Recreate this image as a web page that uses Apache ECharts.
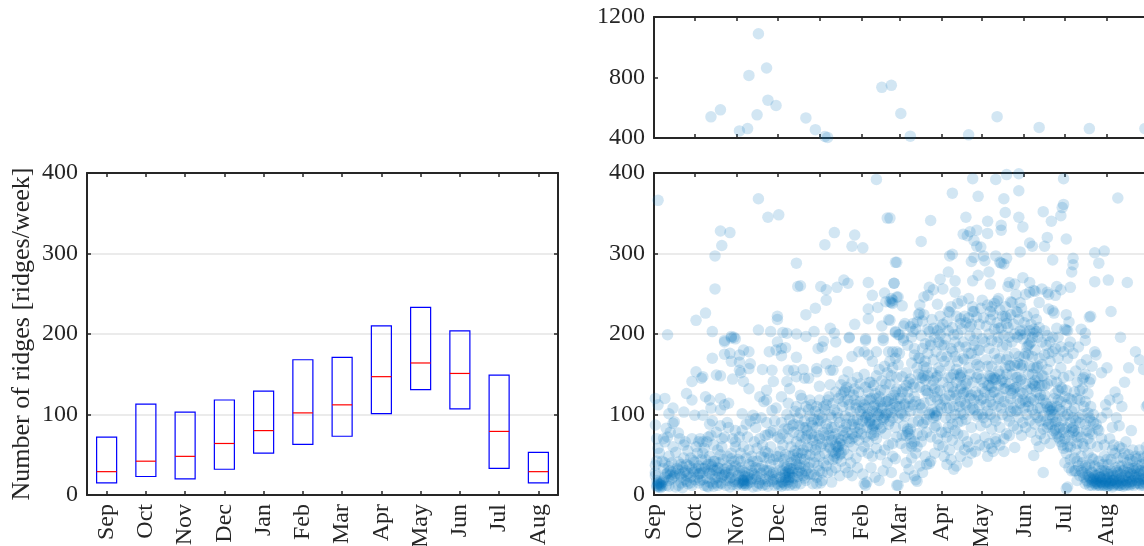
<!DOCTYPE html>
<html>
<head>
<meta charset="utf-8">
<style>html,body{margin:0;padding:0;background:#fff;overflow:hidden}#c{width:1144px;height:546px}</style>
<script src="https://cdn.jsdelivr.net/npm/echarts@6/dist/echarts.min.js"></script>
</head>
<body>
<div id="c"></div>
<script>
const months = ['Sep','Oct','Nov','Dec','Jan','Feb','Mar','Apr','May','Jun','Jul','Aug'];
const monthStartDays = [0,30,61,91,122,153,181,212,242,273,303,334];
const q1 = [15,23,20,32,52,63,73,101,131,107,33,15];
const medians = [29,42,48,64,80,102,112,147,164,151,79,29];
const q3 = [72,113,103,118,129,168,171,210,233,204,149,53];

const extremePoints = [[42,540],[49,586],[63,447],[69,462],[70,814],[77,1089],[76,553],[83,863],[84,650],[90,615],[112,533],[119,455],[126,410],[128,404],[168,735],[175,748],[182,562],[189,412],[232,421],[253,541],[284,470],[321,462],[362,462]];

const highLeft = [[3,366],[77,368],[84,345],[92,348],[49,328],[56,326],[50,310],[45,297],[45,256],[164,392],[172,344],[133,326],[148,323],[126,311],[146,309],[154,307],[105,288],[178,289],[106,259],[108,260],[140,267],[143,263],[123,259],[127,255],[135,258],[158,264],[177,263],[161,248],[170,251],[127,242],[119,232],[112,224],[91,222],[91,218],[38,226],[31,217],[43,203],[10,199],[57,197],[77,205],[86,203],[95,202],[98,201],[105,200],[112,197],[118,203],[130,207],[133,201],[144,196],[156,194],[148,212],[158,231],[158,219],[165,233],[173,218],[168,210],[171,240],[176,242],[179,246],[175,239],[178,202],[180,199],[169,195],[59,196],[52,192]];

const highRight = [[174,344],[204,341],[197,315],[220,375],[235,393],[252,392],[260,398],[269,399],[302,393],[239,371],[269,378],[258,368],[259,351],[230,345],[246,340],[269,345],[287,352],[302,361],[301,357],[300,347],[293,340],[342,369],[256,335],[256,329],[272,333],[238,329],[233,327],[228,324],[231,322],[246,325],[236,316],[238,309],[241,308],[290,320],[304,318],[277,313],[279,309],[288,309],[270,302],[325,301],[332,303],[309,294],[309,286],[308,277],[294,292],[328,288],[220,299],[218,297],[236,295],[234,290],[243,297],[244,291],[252,297],[260,294],[255,289],[256,288],[258,287],[179,289],[217,277],[247,277],[239,273],[235,266],[222,266],[211,268],[177,263],[203,258],[213,256],[206,255],[248,262],[262,264],[261,259],[266,262],[272,270],[277,264],[325,265],[335,267],[349,264],[307,258],[297,259],[300,255],[286,256],[280,254],[222,252],[202,248],[199,246],[175,244],[180,246],[176,238],[174,240],[183,235],[196,236],[209,237],[227,241],[242,242],[254,244],[253,241],[251,238],[249,234],[248,228],[235,234],[263,240],[264,239],[267,249],[270,239],[274,249],[277,252],[281,253],[290,252],[291,249],[296,248],[284,239],[268,227],[280,226],[291,231],[294,229],[295,226],[304,224],[322,222],[321,221],[337,228],[306,215],[315,206],[318,201],[344,196],[304,205],[305,204],[303,206],[297,207],[282,203],[280,201],[272,205],[270,199],[260,220],[259,222],[260,213],[254,207],[238,221],[235,228],[232,220],[229,222],[226,219],[223,222],[226,213],[233,209],[217,228],[218,227],[216,215],[211,208],[206,207],[203,203],[196,226],[195,224],[199,224],[194,215],[191,213],[189,209],[185,213],[174,217],[178,203],[181,199],[184,195],[191,203],[221,199],[211,199]];

const lowSep = [[1,120],[8,120],[3,112],[14,108],[11,101],[22,103],[28,118],[24,126],[28,141],[1,87],[9,83],[15,91],[14,89],[18,77],[2,70],[7,70],[8,66],[19,70],[23,66],[28,70],[14,60],[4,52],[11,48],[22,46],[30,41],[1,37],[11,35],[3,15],[4,13],[5,12],[3,11],[4,10],[5,14],[2,18],[6,16],[1,24],[8,22],[10,27],[12,25],[13,20],[11,18],[14,29],[15,24],[17,33],[18,12],[20,15],[19,26],[22,19],[23,30],[24,24],[25,14],[26,36],[27,22],[29,28],[30,19],[7,33],[9,12],[16,10],[21,9],[28,12],[13,40],[6,42],[3,58],[16,53],[25,55],[10,72],[12,78],[1,28],[2,42],[18,41],[24,38],[27,46]];

const lowOct = [[31,153],[36,147],[35,145],[46,149],[49,148],[38,122],[41,118],[49,120],[55,114],[52,112],[42,108],[49,106],[30,99],[36,99],[31,33],[33,26],[34,18],[36,28],[37,12],[38,35],[39,21],[40,30],[41,16],[42,38],[43,25],[44,11],[45,20],[45,42],[46,30],[47,34],[48,27],[49,15],[50,22],[51,44],[52,32],[53,12],[54,18],[55,26],[56,37],[57,22],[58,13],[59,30],[60,19],[32,52],[35,44],[37,58],[41,48],[44,62],[47,56],[50,60],[54,48],[57,52],[59,42],[36,52],[39,66],[42,74],[46,78],[52,72],[55,84],[58,70],[60,60],[34,70],[33,66],[36,66],[41,88],[43,92],[49,86],[54,90],[60,80],[33,15],[40,10],[47,12],[52,25],[56,10],[38,44],[44,31],[48,40],[43,35]];

const lowNov = [[52,190],[57,195],[60,194],[43,170],[52,175],[56,176],[57,166],[63,174],[66,180],[70,178],[71,163],[63,165],[63,155],[64,152],[58,144],[66,141],[70,157],[70,132],[80,156],[87,155],[85,178],[91,190],[90,180],[88,141],[83,130],[78,122],[81,116],[83,118],[90,108],[65,101],[73,99],[75,95],[61,12],[62,24],[63,16],[64,34],[65,14],[66,15],[67,18],[67,28],[68,12],[69,22],[70,38],[71,16],[72,30],[73,10],[74,25],[75,20],[76,42],[77,15],[78,33],[79,27],[80,12],[81,47],[82,20],[83,30],[84,11],[85,24],[86,38],[87,17],[88,28],[89,12],[90,20],[62,44],[64,52],[66,60],[68,46],[70,56],[72,48],[74,66],[76,58],[78,70],[80,62],[82,54],[84,75],[86,60],[88,80],[90,48],[63,72],[65,80],[68,88],[71,92],[75,84],[79,96],[83,90],[87,105],[89,92],[91,72],[65,30],[72,36],[80,36],[85,46],[66,19],[69,14],[76,11]];

const lowDec = [[94,182],[97,183],[94,173],[105,171],[99,155],[103,155],[105,147],[110,156],[111,145],[114,145],[120,157],[121,182],[98,141],[100,132],[108,124],[109,120],[94,122],[99,114],[115,118],[105,110],[120,153],[92,12],[93,22],[94,16],[95,30],[96,25],[97,18],[98,35],[99,27],[100,12],[101,40],[102,22],[103,33],[104,12],[105,46],[106,28],[107,38],[108,14],[109,52],[110,24],[111,44],[112,18],[113,60],[114,34],[115,50],[116,26],[117,68],[118,40],[119,56],[120,22],[121,74],[122,48],[93,54],[95,62],[97,50],[99,70],[101,60],[103,78],[105,66],[107,86],[109,72],[111,92],[113,80],[115,98],[117,86],[119,104],[121,92],[94,90],[96,82],[98,100],[100,94],[102,86],[104,104],[106,96],[108,102],[110,84],[112,110],[114,106],[116,112],[118,94],[120,110],[122,118],[92,40],[96,44],[100,48],[104,55],[108,62],[112,70],[116,76],[120,62],[103,50],[107,30],[111,36],[98,22],[99,30],[100,26],[101,33],[105,38],[106,52],[108,45],[110,56],[95,16],[97,12],[102,14]];

const lowJan = [[124,184],[125,191],[134,190],[144,195],[151,178],[146,172],[135,166],[127,163],[130,155],[132,155],[143,153],[140,143],[138,137],[141,130],[130,137],[122,135],[124,28],[125,40],[126,52],[127,36],[128,66],[129,44],[130,58],[131,30],[132,72],[133,48],[134,52],[135,46],[136,55],[137,50],[138,42],[139,62],[140,56],[141,34],[142,78],[143,50],[144,66],[145,40],[146,88],[147,60],[148,72],[149,46],[150,94],[151,68],[152,82],[153,54],[123,60],[125,78],[127,88],[129,74],[131,96],[133,84],[135,102],[137,90],[139,110],[141,98],[143,118],[145,104],[147,124],[149,108],[151,128],[153,100],[126,106],[128,118],[130,100],[132,114],[134,128],[136,120],[138,124],[140,116],[142,134],[144,128],[146,140],[148,132],[150,146],[152,138],[124,96],[127,112],[136,70],[139,80],[128,28],[134,34],[143,28],[137,24],[131,16],[124,18],[150,34],[146,24],[135,60],[137,64],[132,44],[138,52]];

const lowFeb = [[156,192],[155,178],[158,174],[164,178],[169,192],[173,178],[176,178],[179,178],[155,14],[156,12],[157,16],[154,26],[160,34],[163,22],[166,18],[169,30],[172,40],[175,28],[178,45],[180,12],[155,60],[156,72],[157,84],[158,66],[159,92],[160,76],[161,104],[162,86],[163,112],[164,70],[165,98],[166,122],[167,82],[168,108],[169,94],[170,130],[171,76],[172,116],[173,88],[174,138],[175,102],[176,64],[177,124],[178,84],[179,146],[180,96],[181,110],[154,108],[156,118],[158,128],[160,120],[162,136],[164,148],[166,156],[168,142],[170,160],[172,152],[174,166],[176,158],[178,170],[180,162],[158,52],[161,48],[164,58],[167,50],[170,56],[173,62],[176,48],[179,72],[160,96],[163,88],[159,90],[164,102],[165,108],[168,96],[171,100],[174,92],[177,108],[159,140],[155,150],[161,166],[157,98],[162,74]];

const lowMar = [[184,192],[183,147],[198,145],[200,143],[199,148],[182,64],[183,74],[184,86],[185,98],[186,58],[187,79],[188,110],[189,70],[190,64],[191,90],[192,122],[193,52],[194,76],[195,102],[196,134],[197,66],[198,88],[199,114],[200,48],[201,94],[202,126],[203,39],[204,72],[205,106],[206,142],[207,84],[208,99],[209,118],[210,62],[211,154],[212,78],[182,120],[184,132],[186,152],[188,140],[190,164],[192,174],[194,158],[196,170],[198,182],[200,166],[202,176],[204,186],[206,168],[208,178],[210,190],[212,172],[183,100],[185,112],[187,128],[189,104],[191,138],[193,116],[195,150],[197,108],[199,160],[201,130],[203,102],[205,136],[207,122],[209,148],[211,112],[186,40],[188,32],[190,46],[192,24],[193,19],[194,17],[196,36],[198,28],[201,38],[204,42],[207,52],[209,70],[208,98],[207,102],[209,104],[187,82],[188,76],[192,66],[190,60],[179,12],[185,22]];

const lowApr = [[221,32],[231,41],[214,186],[216,172],[218,160],[220,178],[222,190],[224,166],[226,148],[226,146],[225,150],[228,170],[230,184],[232,158],[234,176],[236,192],[238,162],[240,180],[213,60],[214,48],[216,72],[217,84],[218,56],[219,96],[220,68],[221,110],[222,80],[223,124],[224,90],[225,62],[226,102],[227,136],[228,74],[229,114],[230,94],[231,128],[232,60],[233,106],[234,84],[235,140],[236,118],[237,70],[238,98],[239,150],[240,112],[241,86],[242,132],[215,120],[217,134],[219,146],[221,128],[223,156],[226,116],[228,126],[230,138],[233,120],[236,106],[239,124],[241,144],[215,96],[218,108],[220,88],[222,100],[224,76],[227,92],[229,56],[231,66],[234,52],[237,54],[240,62],[216,38],[219,44],[223,36],[226,48]];

const lowMay = [[248,147],[249,145],[247,148],[250,143],[245,168],[247,182],[249,160],[251,176],[253,190],[255,170],[257,184],[259,158],[261,172],[262,161],[263,160],[266,161],[268,164],[270,162],[272,161],[271,158],[244,72],[245,90],[246,104],[247,64],[248,116],[249,82],[250,128],[251,96],[252,70],[253,110],[254,136],[255,84],[256,122],[257,100],[258,54],[259,140],[260,76],[261,112],[262,92],[263,130],[264,150],[265,86],[266,133],[267,134],[266,59],[267,104],[268,120],[269,96],[270,142],[271,74],[272,126],[273,108],[243,120],[246,136],[248,124],[251,146],[254,154],[256,142],[258,132],[260,150],[263,120],[265,108],[268,146],[270,114],[272,90],[246,48],[249,58],[252,66],[255,62],[258,70],[262,74],[268,82],[243,96],[244,60],[250,54]];

const lowJun = [[276,186],[277,188],[275,184],[278,190],[274,176],[279,172],[281,180],[284,170],[286,162],[288,174],[290,156],[292,166],[294,178],[296,150],[298,170],[300,158],[302,146],[274,138],[276,150],[278,132],[280,137],[281,135],[279,139],[282,128],[283,146],[284,120],[285,108],[286,136],[287,98],[288,124],[289,114],[290,138],[291,88],[292,108],[293,110],[294,106],[295,100],[296,126],[297,92],[298,118],[299,84],[300,134],[301,104],[302,78],[303,122],[274,84],[275,100],[276,116],[277,92],[278,78],[279,106],[280,49],[281,88],[282,68],[283,96],[284,60],[285,76],[287,28],[288,70],[290,84],[292,64],[294,76],[296,82],[298,72],[300,66],[302,58],[280,158],[283,160],[287,148],[293,142],[297,140],[301,132]];

const lowJul = [[304,8],[305,10],[303,40],[304,52],[305,60],[306,34],[307,44],[308,68],[309,84],[310,30],[311,56],[312,72],[313,96],[314,24],[315,48],[316,64],[317,110],[318,36],[319,18],[320,52],[321,78],[322,92],[323,28],[324,44],[325,14],[326,17],[327,60],[328,34],[329,22],[330,70],[331,12],[332,48],[333,16],[334,26],[304,112],[306,120],[308,104],[310,128],[312,140],[314,118],[316,132],[318,150],[320,126],[322,144],[324,100],[326,88],[328,80],[330,96],[332,62],[327,82],[308,82],[309,78],[306,148],[311,154],[315,162],[319,168],[323,160],[326,174],[330,152],[334,158],[305,170],[309,176],[313,184],[307,190],[318,192],[325,178],[321,140],[317,146],[316,144],[326,12],[327,20],[324,22],[328,12],[325,25],[329,16],[323,16],[322,20],[321,12],[320,24],[318,14],[316,28],[312,42],[311,30]];

const lowAug = [[335,12],[334,11],[336,15],[337,18],[338,10],[339,24],[340,14],[341,30],[342,12],[343,20],[344,16],[345,36],[346,11],[347,24],[348,18],[349,40],[350,13],[351,28],[352,17],[353,33],[354,12],[355,22],[356,45],[357,15],[358,26],[359,12],[360,38],[361,20],[362,30],[363,14],[364,50],[332,30],[335,38],[337,44],[340,52],[342,46],[345,58],[348,66],[350,50],[353,56],[356,32],[359,48],[363,60],[336,70],[338,84],[341,96],[343,86],[339,62],[345,110],[352,80],[334,102],[333,112],[336,118],[340,128],[342,120],[347,140],[350,158],[358,168],[355,178],[364,112],[363,110],[361,156],[346,46],[349,28],[339,18],[344,26],[351,16],[354,30],[358,18],[361,12],[343,12],[347,13]];

const moreAutumnLow = [[2,12],[3,14],[4,16],[2,10],[5,9],[6,11],[7,19],[9,26],[11,11],[12,30],[14,22],[16,27],[18,31],[20,22],[21,35],[22,28],[24,17],[25,27],[27,15],[28,33],[30,29],[32,22],[33,36],[34,27],[36,19],[37,33],[39,11],[40,38],[41,27],[43,14],[44,42],[46,15],[47,22],[48,33],[50,14],[51,25],[53,28],[54,34],[56,21],[57,31],[59,17],[60,36],[62,14],[63,30],[65,25],[66,12],[67,23],[69,18],[70,25],[72,20],[73,27],[75,34],[76,23],[78,14],[79,19],[81,31],[82,13],[84,17],[85,30],[87,25],[88,19],[90,27],[91,14],[93,31],[94,11],[96,37],[97,28],[99,19],[100,33],[102,28],[103,21],[105,15],[106,23],[108,34],[109,27],[111,21],[112,30],[114,26],[115,40],[117,14],[118,25],[120,14],[66,17],[67,14],[65,18],[96,14],[97,22],[99,16],[100,22],[8,40],[20,38],[29,43],[35,33],[49,50],[57,45],[64,42],[73,42],[79,48],[84,52],[88,44],[92,48],[104,43],[112,50],[116,60],[119,48],[121,36],[122,30],[123,15],[22,62],[31,60],[40,72],[50,70],[60,66],[69,72],[82,74],[86,78],[93,70],[99,82],[103,88],[107,74],[112,84],[95,76]];

const moreWinterMid = [[113,74],[116,90],[118,72],[120,84],[122,70],[123,92],[124,64],[126,74],[128,82],[129,60],[131,68],[132,54],[134,62],[136,60],[138,68],[140,74],[142,88],[143,70],[144,96],[146,76],[147,92],[148,84],[149,112],[150,78],[151,88],[152,104],[153,76],[154,92],[155,112],[156,96],[157,108],[158,100],[159,118],[160,88],[161,82],[162,110],[163,78],[164,120],[165,88],[166,100],[167,116],[168,84],[169,110],[170,96],[171,116],[172,102],[173,118],[174,106],[175,120],[176,96],[177,114],[178,128],[179,110],[180,120],[125,110],[129,122],[133,106],[136,96],[140,128],[144,112],[148,118],[152,116],[156,134],[160,140],[163,126],[167,130],[171,138],[175,148],[179,132],[122,100],[131,84],[134,76],[141,84],[146,70]];

const moreSpringHigh = [[181,176],[182,102],[183,128],[184,210],[185,114],[186,74],[186,136],[187,186],[188,120],[189,82],[189,144],[190,196],[191,112],[192,134],[192,182],[193,206],[194,60],[195,92],[195,170],[196,112],[197,146],[197,198],[198,74],[198,216],[199,90],[200,130],[200,188],[201,78],[201,158],[202,148],[202,206],[203,100],[204,118],[204,190],[205,152],[205,218],[206,96],[207,132],[207,196],[208,86],[208,146],[209,204],[209,128],[210,158],[211,130],[211,222],[212,108],[212,186],[213,140],[213,212],[214,118],[214,166],[215,194],[215,78],[216,108],[217,146],[217,204],[218,124],[219,182],[219,234],[220,134],[220,208],[221,150],[222,120],[222,172],[223,140],[224,200],[224,238],[225,110],[225,184],[226,132],[227,152],[227,206],[228,100],[228,190],[229,128],[229,168],[230,112],[230,214],[231,142],[232,176],[232,244],[233,150],[233,198],[234,124],[234,212],[235,108],[236,186],[236,228],[237,128],[237,168],[238,200],[238,146],[239,100],[239,180],[240,212],[240,160],[241,118],[241,232],[242,100],[242,194],[243,140],[243,220],[244,128],[244,190],[245,210],[245,112],[246,160],[246,236],[247,136],[247,200],[248,218],[248,100],[249,134],[249,192],[250,112],[250,224],[251,128],[251,206],[252,144],[252,92],[253,214],[253,168],[254,120],[254,196],[255,150],[255,230],[256,108],[256,208],[257,144],[257,222],[258,116],[258,198],[259,132],[259,234],[260,186],[260,168],[261,208],[261,98],[262,138],[262,196],[263,104],[263,224],[264,126],[264,190],[265,212],[265,132],[266,200],[266,176],[267,146],[267,228],[268,196],[268,106],[269,218],[269,172],[270,128],[270,204],[271,144],[271,232],[272,118],[272,194],[273,214],[273,172],[274,116],[274,200],[275,130],[275,222],[276,110],[276,174],[277,204],[277,160],[278,120],[278,212],[279,196],[279,150],[280,118],[280,206],[281,142],[281,100],[282,218],[282,158],[283,196],[283,108],[284,136],[284,208],[285,124],[285,92],[286,190],[286,148],[287,118],[287,82],[288,204],[288,136],[289,92],[289,186],[290,110],[290,198],[291,106],[291,176],[292,100],[292,190],[293,104],[293,88],[294,196],[294,96],[295,120],[295,80],[296,182],[296,90],[297,110],[297,76],[298,196],[298,130],[299,106],[299,70],[300,184],[300,116],[301,92],[301,62],[302,178],[302,82],[303,98],[303,70],[304,84],[304,130],[305,100],[306,74],[306,184],[307,90],[307,60],[308,118],[309,96],[310,108],[310,80],[311,92],[312,64],[312,120],[313,78],[314,90],[314,130],[315,72],[316,100],[317,60],[318,88],[318,116],[319,80],[320,102],[320,70],[321,96],[322,64],[322,110],[323,76],[324,90]];

const moreSummerLow = [[318,26],[320,16],[321,22],[322,30],[323,12],[324,18],[325,20],[326,15],[326,24],[327,14],[328,18],[328,26],[329,12],[329,22],[330,16],[330,30],[331,20],[331,14],[332,24],[332,12],[333,18],[333,30],[334,14],[334,20],[335,17],[335,26],[336,12],[336,22],[337,14],[337,30],[338,18],[338,26],[339,12],[340,20],[340,34],[341,16],[341,24],[342,28],[342,14],[343,18],[343,36],[344,12],[345,22],[345,14],[346,30],[346,18],[347,32],[348,24],[348,12],[349,16],[350,22],[350,34],[351,20],[351,12],[352,26],[352,14],[353,18],[353,42],[354,24],[355,14],[355,34],[356,18],[356,26],[357,22],[357,36],[358,14],[359,20],[359,30],[360,14],[360,24],[361,28],[362,16],[362,40],[363,22],[363,34],[364,18],[364,30],[365,14],[365,24],[308,30],[310,46],[312,18],[313,36],[315,30],[316,40],[317,22],[319,34],[321,38],[323,46],[325,36],[328,42],[331,38],[334,44],[338,56],[343,60],[347,52],[351,44],[355,48],[358,56],[361,46],[365,42]];

const denseSets = [lowSep, lowOct, lowNov, lowDec, lowJan, lowFeb, lowMar, lowApr, lowMay, lowJun, lowJul, lowAug, moreAutumnLow, moreWinterMid, moreSpringHigh, moreSummerLow];
const lowerPoints = highLeft.concat(highRight, ...denseSets);

const fontFamily = '"Liberation Serif", "Times New Roman", serif';
const ink = '#262626';
const blue = 'rgba(0,114,189,0.22)';
const labelStyle = {fontFamily, fontSize: 24, color: ink};

function monthValueAxis(gridIndex, position, showLabels) {
  return {
    type: 'value', gridIndex, position, min: 0, max: 365, scale: false,
    splitLine: {show: false},
    axisLine: {show: true, onZero: false, lineStyle: {color: ink, width: 2}},
    axisTick: {show: true, inside: true, length: 4, customValues: monthStartDays, lineStyle: {color: ink, width: 1.5}},
    axisLabel: showLabels ? Object.assign({
      show: true, rotate: 90, margin: 9, customValues: monthStartDays,
      formatter: v => months[monthStartDays.indexOf(v)] || ''
    }, labelStyle) : {show: false}
  };
}
function countAxis(gridIndex, position, min, max, interval, showLabels, showGrid, extra) {
  return Object.assign({
    type: 'value', gridIndex, position, min, max, interval,
    splitLine: {show: showGrid, lineStyle: {color: '#e4e4e4', width: 1.5}},
    axisLine: {show: true, onZero: false, lineStyle: {color: ink, width: 2}},
    axisTick: {show: true, inside: true, length: 4, lineStyle: {color: ink, width: 1.5}},
    axisLabel: showLabels ? Object.assign({show: true, margin: 9, formatter: v => String(v)}, labelStyle) : {show: false}
  }, extra || {});
}
function categoryAxis(position, showLabels) {
  return {
    type: 'category', gridIndex: 0, position, data: months, boundaryGap: true,
    axisLine: {show: true, onZero: false, lineStyle: {color: ink, width: 2}},
    axisTick: {show: true, inside: true, length: 4, alignWithLabel: true, lineStyle: {color: ink, width: 1.5}},
    axisLabel: showLabels ? Object.assign({show: true, rotate: 90, margin: 9, interval: 0}, labelStyle) : {show: false},
    splitLine: {show: false}
  };
}

const chart = echarts.init(document.getElementById('c'), null, {renderer: 'canvas', width: 1144, height: 546});
chart.setOption({
  animation: false,
  backgroundColor: '#fff',
  grid: [
    {left: 87, top: 173, width: 471, height: 322, outerBoundsMode: 'none'},
    {left: 654, top: 17, width: 495, height: 121, outerBoundsMode: 'none'},
    {left: 654, top: 173, width: 495, height: 322, outerBoundsMode: 'none'}
  ],
  xAxis: [
    categoryAxis('bottom', true), categoryAxis('top', false),
    monthValueAxis(1, 'top', false), monthValueAxis(1, 'bottom', false),
    monthValueAxis(2, 'bottom', true), monthValueAxis(2, 'top', false)
  ],
  yAxis: [
    countAxis(0, 'left', 0, 400, 100, true, true, {
      name: 'Number of ridges [ridges/week]', nameLocation: 'middle', nameGap: 52,
      nameTextStyle: {fontFamily, fontSize: 26, color: ink}
    }),
    countAxis(0, 'right', 0, 400, 100, false, false),
    countAxis(1, 'left', 400, 1200, 400, true, false),
    countAxis(1, 'right', 400, 1200, 400, false, false),
    countAxis(2, 'left', 0, 400, 100, true, true),
    countAxis(2, 'right', 0, 400, 100, false, false)
  ],
  series: [
    {
      type: 'custom', xAxisIndex: 0, yAxisIndex: 0, clip: false,
      data: months.map((m, i) => [i, q1[i], medians[i], q3[i]]),
      encode: {x: 0, y: [1, 2, 3]},
      renderItem(params, api) {
        const x = api.value(0);
        const bottom = api.coord([x, api.value(1)]);
        const mid = api.coord([x, api.value(2)]);
        const top = api.coord([x, api.value(3)]);
        const w = api.size([1, 0])[0] * 0.51;
        return {type: 'group', children: [
          {type: 'rect', shape: {x: bottom[0] - w / 2, y: top[1], width: w, height: bottom[1] - top[1]},
           style: {fill: 'none', stroke: '#0000ff', lineWidth: 1.2}},
          {type: 'line', shape: {x1: bottom[0] - w / 2, y1: mid[1], x2: bottom[0] + w / 2, y2: mid[1]},
           style: {stroke: '#ff0000', lineWidth: 1.2}}
        ]};
      }
    },
    {type: 'scatter', xAxisIndex: 2, yAxisIndex: 2, data: extremePoints, symbolSize: 11.5, clip: false,
     itemStyle: {color: blue, borderWidth: 0}, large: false, progressive: 0},
    {type: 'scatter', xAxisIndex: 4, yAxisIndex: 4, data: lowerPoints, symbolSize: 11.5, clip: false,
     itemStyle: {color: blue, borderWidth: 0}, large: false, progressive: 0}
  ]
});
</script>
</body>
</html>
